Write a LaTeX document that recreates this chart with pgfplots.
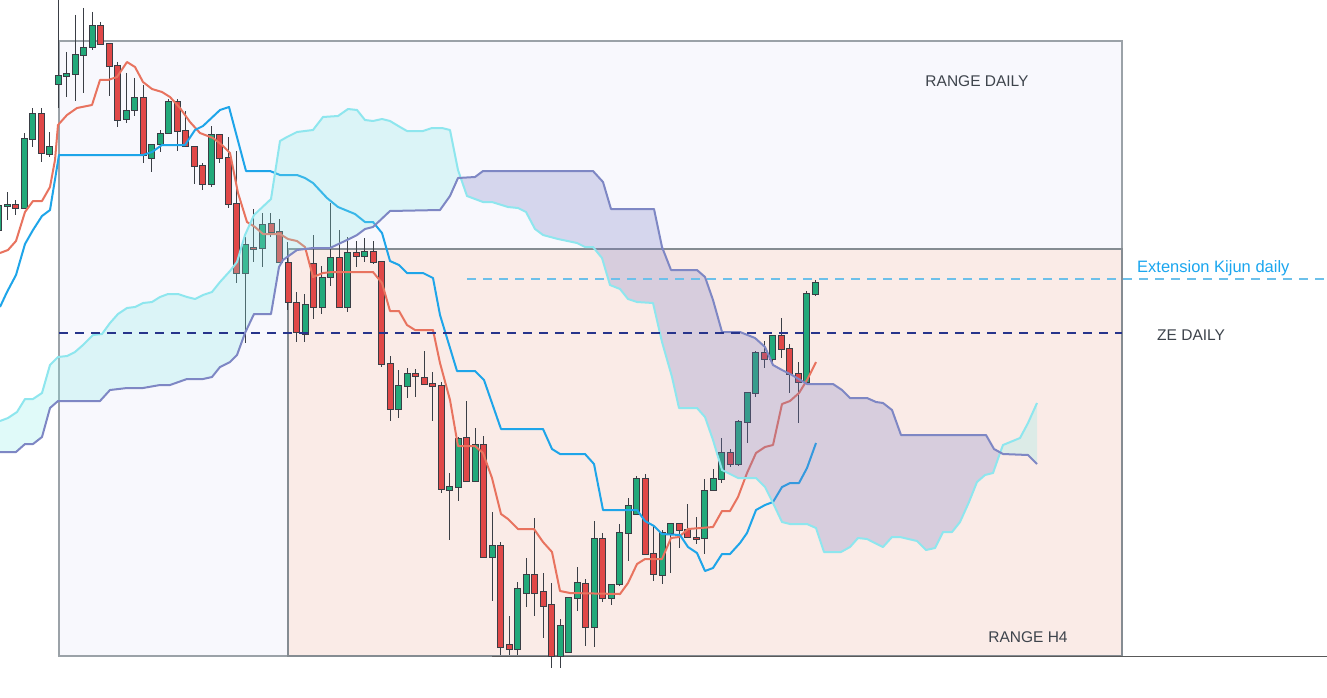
\documentclass[border=0pt]{standalone}
\usepackage{pgfplots}
\pgfplotsset{compat=1.18}
\usepackage{pgfplotstable}
\usepackage{fontspec}
\setmainfont{Liberation Sans}
\definecolor{cgreen}{HTML}{22A97A}
\definecolor{cred}{HTML}{E04848}
\definecolor{cborder}{HTML}{3A3E45}
\definecolor{rdaily}{HTML}{F8F8FD}
\definecolor{rh4}{HTML}{FAEBE7}
\definecolor{bdaily}{HTML}{9BA2A8}
\definecolor{bh4}{HTML}{858C92}
\definecolor{tenkan}{HTML}{E8735F}
\definecolor{kijun}{HTML}{1EA5E9}
\definecolor{spanA}{HTML}{8EE6EE}
\definecolor{spanB}{HTML}{7E87C4}
\definecolor{cyanfill}{HTML}{88ECE9}
\definecolor{lavfill}{HTML}{7478C1}
\definecolor{zenavy}{HTML}{27348B}
\definecolor{extblue}{HTML}{6CC0EA}
\definecolor{extlabel}{HTML}{1AA6EF}
\definecolor{labelgray}{HTML}{3E444C}

% candles: k, open, high, low, close (pixel rows, top = 0)
\pgfplotstableread{
k o h l c
1 230 200 235 205
2 206 192 220 204
3 204 200 215 208
4 208 133 208 138
5 139 108 147 113
6 113 108 162 153
7 154 132 157 146
8 84 0 108 75
9 76 52 97 73
10 74 15 101 54
11 55 8 93 47
12 47 12 50 25
13 25 22 44 44
14 43 43 96 66
15 65 62 127 120
16 119 73 123 110
17 110 78 116 97
18 97 85 163 155
19 158 144 172 144
20 144 130 152 133
21 133 99 133 101
22 101 99 151 131
23 130 111 146 146
24 146 146 184 166
25 165 163 190 184
26 184 126 187 134
27 134 134 163 158
28 157 137 208 204
29 203 151 283 273
30 273 237 343 244
31 247 209 262 249
32 248 213 267 224
33 223 213 237 232
34 231 219 262 262
35 262 242 310 302
36 302 292 342 332
37 334 294 342 304
38 263 235 319 307
39 307 266 314 277
40 277 203 286 257
41 257 230 307 307
42 307 237 312 252
43 252 241 267 256
44 256 238 262 251
45 251 241 264 262
46 261 261 367 364
47 363 356 421 409
48 409 370 418 385
49 386 368 398 373
50 373 369 397 376
51 377 351 384 384
52 383 372 421 386
53 385 382 493 489
54 490 473 540 486
55 487 437 501 438
56 437 401 482 481
57 481 428 481 444
58 444 436 558 557
59 557 512 601 545
60 545 542 655 647
61 644 616 655 649
62 649 582 655 588
63 593 558 607 574
64 574 518 616 593
65 591 573 638 606
66 604 583 668 656
67 656 619 668 625
68 652 597 652 597
69 598 567 611 582
70 583 579 646 627
71 627 521 647 538
72 538 533 602 598
73 598 584 605 584
74 584 524 586 532
75 533 498 561 505
76 514 476 514 478
77 478 474 554 554
78 553 526 581 574
79 575 530 584 532
80 533 523 573 523
81 523 523 548 530
82 529 504 537 537
83 537 517 544 539
84 538 479 554 490
85 490 469 490 478
86 479 438 483 452
87 452 449 467 464
88 464 420 466 421
89 422 392 443 392
90 393 351 397 352
91 352 341 368 359
92 359 335 365 335
93 335 318 358 349
94 348 344 393 374
95 373 362 423 382
96 382 291 382 293
97 294 280 296 282
}\candles

% Senkou span A and B (pixel rows)
\pgfplotstableread{
x y
0 421
8 418
17 412
25 399
33 399
42 393
50 365
58 357
67 356
75 352
83 345
93 335
102 334
110 323
118 314
127 308
135 307
143 303
152 302
160 297
168 294
178 294
187 297
195 299
203 295
212 292
220 282
230 271
237 262
245 235
254 215
271 199
280 141
287 137
297 132
313 130
323 117
338 116
348 109
357 110
365 120
373 121
382 119
390 121
400 127
407 131
423 131
432 128
442 128
450 130
458 170
467 196
483 202
492 202
508 207
518 208
526 212
535 229
543 235
558 239
577 243
585 247
593 247
602 258
610 285
620 289
628 299
637 302
653 303
662 342
672 377
679 408
697 408
705 417
713 440
722 470
738 478
756 478
765 487
773 503
782 522
790 524
807 524
816 528
824 552
841 552
850 547
858 538
867 539
883 547
892 537
900 537
917 541
926 550
935 548
943 532
952 532
960 522
969 502
977 482
985 475
993 473
1000 453
1003 445
1020 438
1028 423
1037 403
}\spanAtab
\pgfplotstableread{
x y
0 452
16 452
25 444
33 444
42 437
50 408
58 401
100 401
110 390
127 388
143 388
160 385
170 385
187 379
203 379
212 377
220 367
230 362
237 355
245 333
254 314
271 314
279 267
283 260
297 250
313 248
330 248
347 240
357 235
365 229
373 227
390 211
440 210
450 196
458 178
475 177
483 171
593 171
603 182
611 209
654 209
662 247
671 270
697 270
705 277
713 300
722 332
740 332
755 338
765 347
773 365
782 370
792 375
807 384
833 384
842 390
850 398
867 398
876 402
883 403
892 410
901 435
986 435
994 449
1003 454
1028 455
1037 464
}\spanBtab

\begin{document}
\begin{tikzpicture}
\begin{axis}[
  width=1327bp, height=697bp, scale only axis,
  xmin=0, xmax=1327, ymin=0, ymax=697, y dir=reverse,
  hide axis, clip=true,
]
% white background
\addplot[fill=white, draw=none] coordinates {(0,0) (1327,0) (1327,697) (0,697)} -- cycle;
% range rectangles
\addplot[fill=rdaily, draw=bdaily, line width=1.6bp] coordinates {(59,41) (1122,41) (1122,656) (59,656)} -- cycle;
\addplot[fill=rh4, draw=bh4, line width=1.6bp] coordinates {(288,249) (1122,249) (1122,656) (288,656)} -- cycle;
% bottom price line
\addplot[draw=black!65, line width=1bp] coordinates {(492,656) (1327,656)};

% candles
\pgfplotstablegetrowsof{\candles}
\pgfmathtruncatemacro\N{\pgfplotsretval-1}
\pgfplotsforeachungrouped \i in {0,...,\N}{%
  \pgfplotstablegetelem{\i}{k}\of\candles \pgfmathsetmacro\xx{7.3+8.505*(\pgfplotsretval-2)}%
  \pgfplotstablegetelem{\i}{o}\of\candles \let\vo\pgfplotsretval
  \pgfplotstablegetelem{\i}{h}\of\candles \let\vh\pgfplotsretval
  \pgfplotstablegetelem{\i}{l}\of\candles \let\vl\pgfplotsretval
  \pgfplotstablegetelem{\i}{c}\of\candles \let\vc\pgfplotsretval
  \pgfmathsetmacro\xa{\xx-3}%
  \pgfmathsetmacro\xb{\xx+3}%
  \pgfmathtruncatemacro\isg{\vc<\vo}%
  \ifnum\isg=1 \def\bodycol{cgreen}\else\def\bodycol{cred}\fi
  \edef\cmd{\noexpand\addplot[draw=cborder, line width=1bp] coordinates {(\xx,\vh) (\xx,\vl)};
    \noexpand\addplot[draw=cborder, line width=0.9bp, fill=\bodycol] coordinates {(\xa,\vo) (\xb,\vo) (\xb,\vc) (\xa,\vc)} -- cycle;}%
  \cmd
}

% tenkan
\addplot[tenkan, line width=2bp, line join=round] coordinates {
(0,253) (8,250) (16,241) (25,212) (33,201) (42,201) (50,187) (55,160) (58,125) (67,115) (77,108) (92,105) (100,80) (108,80) (117,77) (127,62) (135,67) (143,82) (152,89) (162,92) (170,97) (180,108) (190,122) (200,133) (213,138) (222,145) (230,153) (238,193) (247,222) (255,227) (263,234) (280,234) (288,239) (297,241) (305,247) (313,277) (323,273) (332,272) (373,272) (382,283) (390,311) (399,311) (407,325) (415,330) (433,330) (440,363) (450,400) (458,446) (475,446) (483,453) (492,478) (501,514) (508,519) (518,529) (534,529) (543,542) (552,552) (560,591) (570,593) (620,594) (628,583) (637,564) (645,559) (662,559) (671,538) (679,537) (688,529) (713,527) (722,511) (730,511) (738,497) (747,473) (756,453) (765,447) (773,445) (782,404) (790,401) (799,393) (807,380) (816,362)};
% kijun
\addplot[kijun, line width=2bp, line join=round] coordinates {
(0,307) (7,292) (16,275) (25,244) (33,230) (42,216) (50,210) (59,155) (143,155) (152,152) (162,145) (185,145) (195,130) (203,126) (220,110) (229,107) (246,171) (270,171) (280,175) (297,175) (305,178) (313,183) (327,198) (338,207) (355,214) (365,222) (373,222) (382,233) (390,261) (399,265) (407,273) (423,273) (433,278) (440,315) (457,371) (475,371) (484,380) (501,429) (543,429) (552,449) (560,454) (585,454) (594,464) (603,510) (637,510) (645,521) (654,526) (662,534) (680,535) (688,547) (697,553) (705,571) (713,568) (722,554) (730,554) (740,543) (747,533) (756,510) (765,505) (773,502) (782,487) (790,483) (799,483) (807,468) (816,443)};

% cloud fills (area between span A and span B, split at the two crossings)
\addplot[draw=none, fill=cyanfill, fill opacity=0.26] coordinates {
(0,421) (8,418) (17,412) (25,399) (33,399) (42,393) (50,365) (58,357) (67,356) (75,352) (83,345) (93,335) (102,334) (110,323) (118,314) (127,308) (135,307) (143,303) (152,302) (160,297) (168,294) (178,294) (187,297) (195,299) (203,295) (212,292) (220,282) (230,271) (237,262) (245,235) (254,215) (271,199) (280,141) (287,137) (297,132) (313,130) (323,117) (338,116) (348,109) (357,110) (365,120) (373,121) (382,119) (390,121) (400,127) (407,131) (423,131) (432,128) (442,128) (450,130) (458,170) (460.7,177.8)
(458,178) (450,196) (440,210) (390,211) (373,227) (365,229) (357,235) (347,240) (330,248) (313,248) (297,250) (283,260) (279,267) (271,314) (254,314) (245,333) (237,355) (230,362) (220,367) (212,377) (203,379) (187,379) (170,385) (160,385) (143,388) (127,388) (110,390) (100,401) (58,401) (50,408) (42,437) (33,444) (25,444) (16,452) (0,452)} -- cycle;
\addplot[draw=none, fill=lavfill, fill opacity=0.26] coordinates {
(460.7,177.8) (467,196) (483,202) (492,202) (508,207) (518,208) (526,212) (535,229) (543,235) (558,239) (577,243) (585,247) (593,247) (602,258) (610,285) (620,289) (628,299) (637,302) (653,303) (662,342) (672,377) (679,408) (697,408) (705,417) (713,440) (722,470) (738,478) (756,478) (765,487) (773,503) (782,522) (790,524) (807,524) (816,528) (824,552) (841,552) (850,547) (858,538) (867,539) (883,547) (892,537) (900,537) (917,541) (926,550) (935,548) (943,532) (952,532) (960,522) (969,502) (977,482) (985,475) (993,473) (1000.3,452.4)
(994,449) (986,435) (901,435) (892,410) (883,403) (876,402) (867,398) (850,398) (842,390) (833,384) (807,384) (792,375) (782,370) (773,365) (765,347) (755,338) (740,332) (722,332) (713,300) (705,277) (697,270) (671,270) (662,247) (654,209) (611,209) (603,182) (593,171) (483,171) (475,177)} -- cycle;
\addplot[draw=none, fill=cyanfill, fill opacity=0.26] coordinates {
(1000.3,452.4) (1003,445) (1020,438) (1028,423) (1037,403) (1037,464) (1028,455) (1003,454)} -- cycle;
\addplot[spanA, line width=2bp, line join=round] table[x=x, y=y] {\spanAtab};
\addplot[spanB, line width=2bp, line join=round] table[x=x, y=y] {\spanBtab};

% dashed levels
\addplot[zenavy, line width=2bp, dash pattern=on 9bp off 7bp] coordinates {(59,333) (1122,333)};
\addplot[extblue, line width=1.3bp, dash pattern=on 9bp off 7bp] coordinates {(467,279) (1327,279)};

% labels
\node[text=labelgray, font=\fontsize{15.5bp}{18bp}\selectfont] at (axis cs:977,81) {RANGE DAILY};
\node[text=labelgray, font=\fontsize{15.5bp}{18bp}\selectfont] at (axis cs:1028,637) {RANGE H4};
\node[text=extlabel, font=\fontsize{16.5bp}{19bp}\selectfont, anchor=west, inner sep=0pt] at (axis cs:1137,268) {Extension Kijun daily};
\node[text=labelgray, font=\fontsize{15.5bp}{18bp}\selectfont, anchor=west, inner sep=0pt] at (axis cs:1157,335) {ZE DAILY};
\end{axis}
\end{tikzpicture}
\end{document}
